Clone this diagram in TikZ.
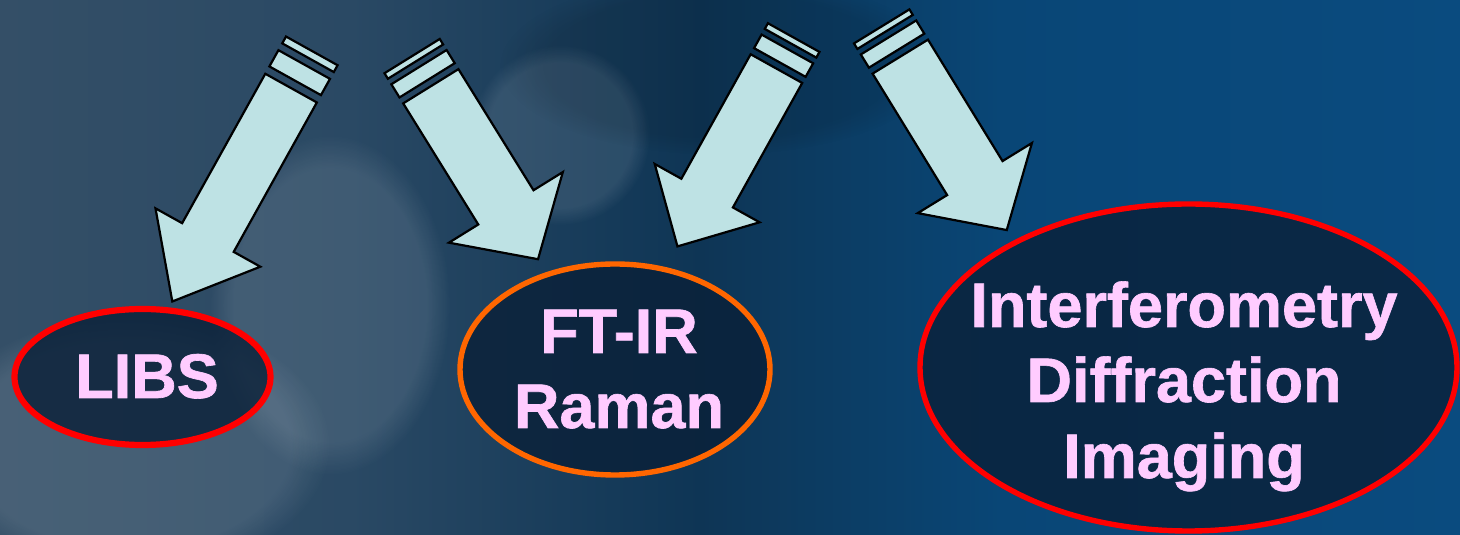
\documentclass[tikz,border=0pt]{standalone}
\usepackage{fontspec}
\setmainfont{Liberation Sans}
\newfontfamily\lblfont[BoldFeatures={FakeBold=1}]{Liberation Sans}
\usetikzlibrary{shapes.geometric,fadings}
\definecolor{arrowfill}{HTML}{BEE2E4}
\definecolor{lblpink}{HTML}{FFCCFF}
\definecolor{ellfill}{HTML}{0A2038}
\definecolor{ringred}{HTML}{FF0000}
\definecolor{ringorange}{HTML}{FF6600}
\definecolor{bgA}{HTML}{344F67}
\definecolor{bgB}{HTML}{2A4964}
\definecolor{bgC}{HTML}{0E3555}
\definecolor{bgD}{HTML}{094676}
\definecolor{bgE}{HTML}{0A4B7F}
\tikzset{
  blockarrow/.style={fill=arrowfill, draw=black, line width=2.2pt, line join=miter},
  ring/.style={ellipse, draw=#1, fill=ellfill, fill opacity=0.8, inner sep=0pt},
  lbl/.style={text=lblpink, font=\lblfont\bfseries\fontsize{63}{75}\selectfont, inner sep=0pt, anchor=base},
  glow/.style={fill=#1, path fading=circle with fuzzy edge 20 percent},
}
% #1 start x, #2 start y, #3 angle, #4 length scale, #5 body half width, #6 head half width
\newcommand\stripedarrow[6]{%
  \begin{scope}[shift={(#1,#2)}, rotate=#3]
    \draw[blockarrow] (0,-#5) rectangle (6.5*#4,#5);
    \draw[blockarrow] (13*#4,-#5) rectangle (28.5*#4,#5);
    \draw[blockarrow] (35.5*#4,-#5) -- (178*#4,-#5) -- (178*#4,-#6) -- (239*#4,0)
      -- (178*#4,#6) -- (178*#4,#5) -- (35.5*#4,#5) -- cycle;
  \end{scope}}
\begin{document}
\begin{tikzpicture}[x=1pt,y=1pt]
\useasboundingbox (0,0) rectangle (1460,535);
% background
\fill[left color=bgA, right color=bgB] (0,0) rectangle (351,535);
\fill[left color=bgB, right color=bgC] (350,0) rectangle (701,535);
\fill[left color=bgC, right color=bgD] (700,0) rectangle (1001,535);
\fill[left color=bgD, right color=bgE] (1000,0) rectangle (1460,535);
\begin{scope}[opacity=0.10]
  \fill[glow=white] (130,90) ellipse (200 and 130);
  \fill[glow=white] (330,230) ellipse (120 and 170);
  \fill[glow=white] (560,400) ellipse (90 and 90);
  \fill[glow=black] (720,470) ellipse (220 and 90);
\end{scope}
% arrows
\stripedarrow{311.8}{484.1}{-119.1}{1.2}{29.5}{60}
\stripedarrow{412.1}{478.9}{-58.2}{1}{32.5}{67}
\stripedarrow{793.7}{497.4}{-119.1}{1}{29.5}{60}
\stripedarrow{881.7}{508.6}{-58.45}{1}{32.5}{67}
% ellipses
\node[ring=ringred, minimum width=256pt, minimum height=136pt, line width=6.2pt] (libsring) at (142.5,158) {};
\node[ring=ringorange, minimum width=310pt, minimum height=211pt, line width=5.4pt] (ftirring) at (615,165.5) {};
\node[ring=ringred, minimum width=537pt, minimum height=327pt, line width=5.4pt] (interring) at (1188.5,167.5) {};
% labels
\node[lbl] (libs) at (147,137) {LIBS};
\node[lbl] (ftir) at (619,182) {FT-IR};
\node[lbl] (raman) at (619,107) {Raman};
\node[lbl] (interf) at (1184,208) {Interferometry};
\node[lbl] (diffr) at (1184,133) {Diffraction};
\node[lbl] (imag) at (1184,57) {Imaging};
\end{tikzpicture}
\end{document}
